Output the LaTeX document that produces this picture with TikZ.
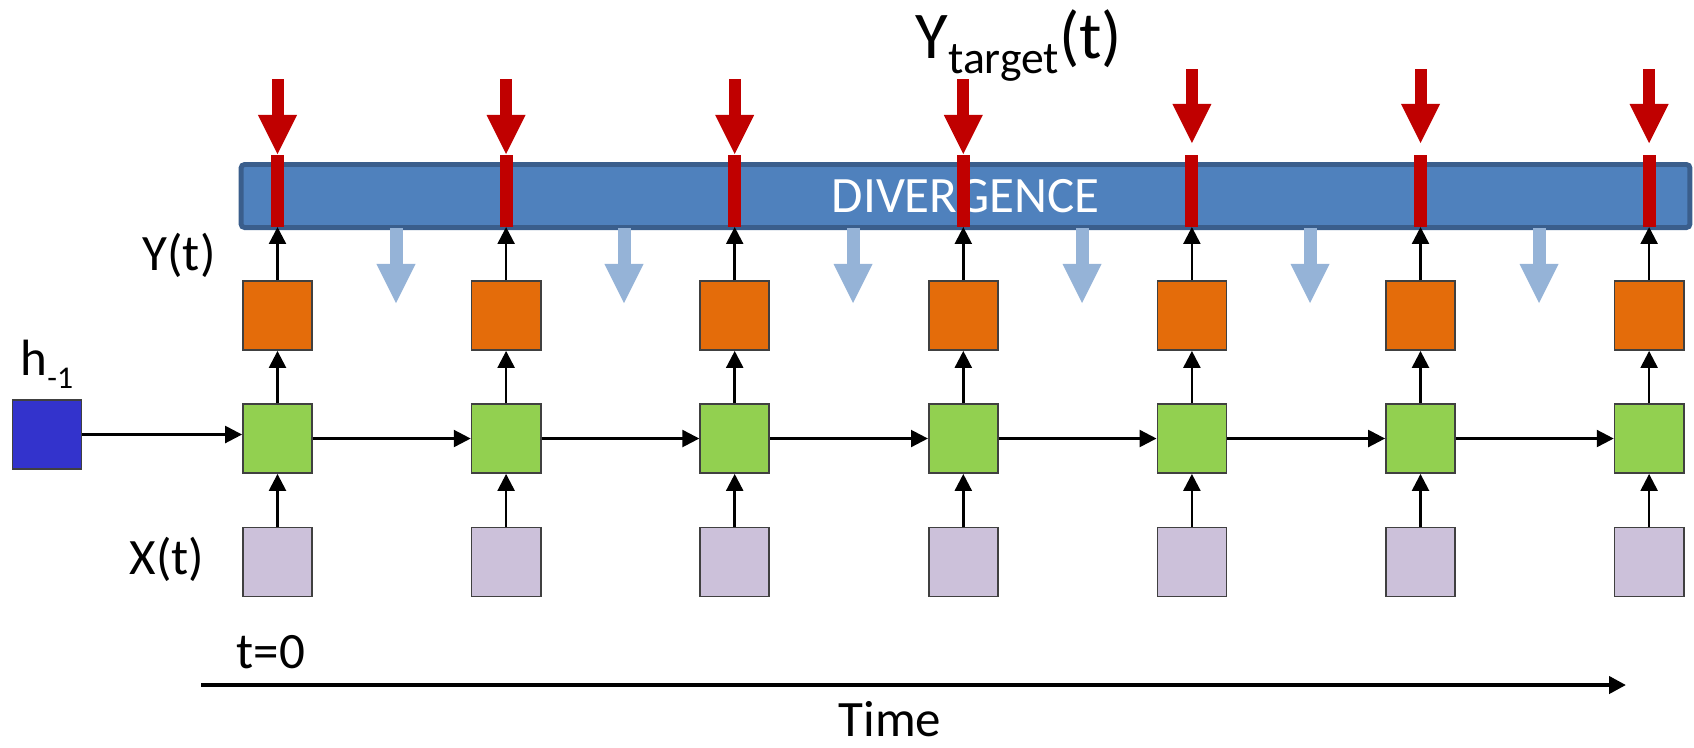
\documentclass[tikz,border=0pt]{standalone}
\usepackage{fontspec}
\setmainfont{Carlito}
\usepackage{tikz}
\usetikzlibrary{arrows.meta}
\definecolor{cellgreen}{HTML}{92D050}
\definecolor{cellorange}{HTML}{E46C0A}
\definecolor{celllilac}{HTML}{CCC1DA}
\definecolor{cellblue}{HTML}{3333CC}
\definecolor{cellborder}{HTML}{404040}
\definecolor{divfill}{HTML}{4F81BD}
\definecolor{divborder}{HTML}{3A5E8C}
\definecolor{tgtred}{HTML}{C00000}
\definecolor{gradblue}{HTML}{95B3D7}

\tikzset{
  cell/.style={draw=cellborder, line width=0.5pt, minimum width=0.69cm, minimum height=0.69cm, inner sep=0pt},
  hidcell/.style={cell, fill=cellgreen},
  outcell/.style={cell, fill=cellorange},
  incell/.style={cell, fill=celllilac},
  initcell/.style={cell, fill=cellblue},
  link/.style={->, line width=0.7pt},
  fatarrow/.style={-{Triangle[length=0.39cm, width=0.39cm, line width=0pt]}},
  targetarrow/.style={fatarrow, line width=0.12cm, draw=tgtred, fill=tgtred},
  gradarrow/.style={fatarrow, line width=0.13cm, draw=gradblue, fill=gradblue},
  lbl/.style={inner sep=0pt, font=\fontsize{14.5}{17}\selectfont},
}

\begin{document}
\begin{tikzpicture}[>={Triangle[length=4.8pt, width=4.8pt]}, x=0.01cm, y=-0.01cm]
    \useasboundingbox (0,0) rectangle (1694,747);

    % divergence bar
    \node[draw=divborder, line width=1.4pt, fill=divfill, rounded corners=1pt,
          minimum width=14.48cm, minimum height=0.63cm, inner sep=0pt,
          text=white, font=\fontsize{14.5}{17}\selectfont] (div) at (965.5,196) {DIVERGENCE};

    % initial state
    \node[initcell] (h0) at (47,434.5) {};
    \node[lbl, anchor=base west] (hlbl) at (20,375) {h\raisebox{-0.13cm}{\fontsize{9}{10}\selectfont -1}};

    % unrolled network
    \foreach \i in {1,...,7} {
        \pgfmathsetmacro\cx{277.5+228.6*(\i-1)}
        \pgfmathsetmacro\ttop{\i>4 ? 69 : 79}
        \pgfmathsetmacro\ttip{\i>4 ? 143 : 154}
        \node[outcell] (out\i) at (\cx,315.5) {};
        \node[hidcell] (hid\i) at (\cx,438.5) {};
        \node[incell] (in\i) at (\cx,562) {};
        \fill[tgtred] (\cx-6.5,155) rectangle (\cx+6.5,227);
        \coordinate (tgt\i) at (\cx,227);
        \coordinate (ytop\i) at (\cx,\ttop);
        \coordinate (ytip\i) at (\cx,\ttip);
        \draw[targetarrow] (ytop\i) -- (ytip\i);
        \draw[link] (in\i.north) -- (hid\i.south);
        \draw[link] (hid\i.north) -- (out\i.south);
        \draw[link] (out\i.north) -- (tgt\i);
    }

    % recurrence
    \draw[link] (h0.east) -- (h0.east -| hid1.west);
    \foreach \i [evaluate=\i as \j using int(\i+1)] in {1,...,6}
        \draw[link] (hid\i.east) -- (hid\j.west);

    % gradients flowing back
    \foreach \gx [count=\k] in {396,624,853,1082,1310,1539} {
        \coordinate (gtop\k) at (\gx,228);
        \coordinate (gtip\k) at (\gx,303);
        \draw[gradarrow] (gtop\k) -- (gtip\k);
    }

    % labels
    \node[lbl, anchor=base west] (ylbl) at (142,270) {Y(t)};
    \node[lbl, anchor=base west] (xlbl) at (129,574) {X(t)};
    \node[inner sep=0pt, anchor=base west, font=\fontsize{19}{22}\selectfont] (tgtlbl) at (915,58)
        {Y\raisebox{-0.15cm}{\fontsize{13}{15}\selectfont target}(t)};

    % time axis
    \coordinate (tstart) at (201,685);
    \coordinate (tend) at (1626,685);
    \draw[->, line width=1.15pt] (tstart) -- (tend);
    \node[lbl, anchor=base west] (t0lbl) at (236,668) {t=0};
    \node[lbl, anchor=base] (timelbl) at (890,736) {Time};

\end{tikzpicture}
\end{document}
